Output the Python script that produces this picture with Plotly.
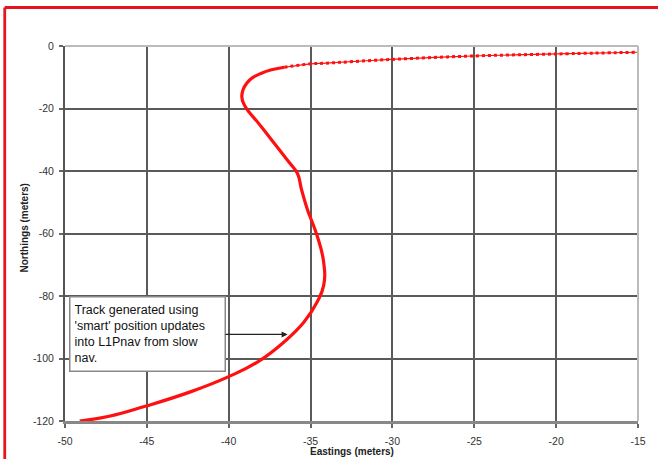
import plotly.graph_objects as go

eastings = [-49.1, -47.3, -45.1, -42.3, -40.0, -38.2, -36.6, -35.4, -34.6, -34.2,
            -34.2, -34.6, -35.2, -35.55, -35.8, -36.3, -37.4, -38.2, -39.0, -39.2,
            -38.9, -38.0, -36.6, -35.0, -34.1, -30.1, -25.1, -20.0, -15.0]
northings = [-120.0, -118.5, -115.3, -110.6, -105.8, -101.0, -94.6, -88.3, -81.9, -76.6,
             -69.2, -60.7, -52.2, -46.0, -40.8, -37.3, -29.9, -24.6, -19.3, -16.1,
             -11.9, -8.7, -6.8, -5.7, -5.5, -4.3, -3.2, -2.55, -2.0]
split = 22

x_ticks = [-50, -45, -40, -35, -30, -25, -20, -15]
y_ticks = [0, -20, -40, -60, -80, -100, -120]

note_text = "Track generated using<br>'smart' position updates<br>into L1Pnav from slow<br>nav."
note_point = (-36.4, -92.3)

RED = "#ff1010"
fig = go.Figure()
fig.add_trace(go.Scatter(x=eastings[:split + 1], y=northings[:split + 1], mode="lines",
                         line=dict(color=RED, width=3.2, shape="spline", smoothing=1.3),
                         showlegend=False, hoverinfo="skip"))
fig.add_trace(go.Scatter(x=eastings[split:], y=northings[split:], mode="lines",
                         line=dict(color=RED, width=1.2, shape="spline", smoothing=1.0),
                         showlegend=False, hoverinfo="skip"))
fig.add_trace(go.Scatter(x=eastings[split:], y=northings[split:], mode="lines",
                         line=dict(color=RED, width=3, shape="spline", smoothing=1.0, dash="3px,3px"),
                         showlegend=False, hoverinfo="skip"))

L, R, T, B = 65, 13, 46, 36
W, H = 658, 459
pw, ph = W - L - R, H - T - B

def px(xp):
    return (xp - L) / pw

def py(yp):
    return (H - B - yp) / ph

axis_font = dict(family="Liberation Sans, Arial, sans-serif", size=10.5, color="#333")
fig.update_xaxes(range=[-50, -15], tickvals=x_ticks, ticktext=[str(v) for v in x_ticks],
                 showgrid=True, gridcolor="#5a5a5a", gridwidth=1.6,
                 showline=True, linecolor="#888", linewidth=2.5,
                 ticks="outside", ticklen=4, tickcolor="#666", tickwidth=1.5,
                 tickfont=axis_font, ticklabelstandoff=5, zeroline=False, fixedrange=True)
fig.update_yaxes(range=[-120, 0], tickvals=y_ticks, ticktext=[str(v) for v in y_ticks],
                 showgrid=True, gridcolor="#5a5a5a", gridwidth=1.6,
                 showline=True, linecolor="#555", linewidth=2,
                 ticks="outside", ticklen=4, tickcolor="#666", tickwidth=1.5,
                 tickfont=axis_font, ticklabelstandoff=3, zeroline=False, fixedrange=True)

shapes = [
    dict(type="line", xref="paper", yref="paper", x0=0, x1=1, y0=1, y1=1,
         line=dict(color="#bbbbbb", width=2)),
    dict(type="line", xref="paper", yref="paper", x0=1, x1=1, y0=0, y1=1,
         line=dict(color="#bbbbbb", width=2)),
    dict(type="line", xref="paper", yref="paper", x0=px(4), x1=px(4), y0=py(7.3), y1=py(480),
         line=dict(color="#e8141c", width=2.8)),
    dict(type="line", xref="paper", yref="paper", x0=px(4), x1=px(680), y0=py(7.3), y1=py(7.3),
         line=dict(color="#e8141c", width=2.8)),
]

annotations = [
    dict(x=note_point[0], y=note_point[1], xref="x", yref="y", text=note_text,
         showarrow=True, arrowhead=2, arrowsize=1, arrowwidth=1.2, arrowcolor="#222",
         ax=-140, ay=0, align="left", width=146, height=65, borderpad=4,
         bordercolor="#888", borderwidth=1.5, bgcolor="white",
         font=dict(family="Liberation Sans, Arial, sans-serif", size=12.5, color="#111")),
    dict(x=0.5, y=py(454), xref="paper", yref="paper", text="<b>Eastings (meters)</b>",
         showarrow=False, xanchor="center", yanchor="middle",
         font=dict(family="Liberation Sans, Arial, sans-serif", size=10, color="#222")),
    dict(x=px(24), y=py(229), xref="paper", yref="paper", text="<b>Northings (meters)</b>",
         showarrow=False, xanchor="center", yanchor="middle", textangle=-90,
         font=dict(family="Liberation Sans, Arial, sans-serif", size=10, color="#222")),
]

fig.update_layout(width=W, height=H, margin=dict(l=L, r=R, t=T, b=B),
                  paper_bgcolor="white", plot_bgcolor="white",
                  shapes=shapes, annotations=annotations, showlegend=False)

fig.write_html("out.html", config={"displayModeBar": False},
               post_script="document.body.style.margin='0';document.body.style.overflow='hidden';")
